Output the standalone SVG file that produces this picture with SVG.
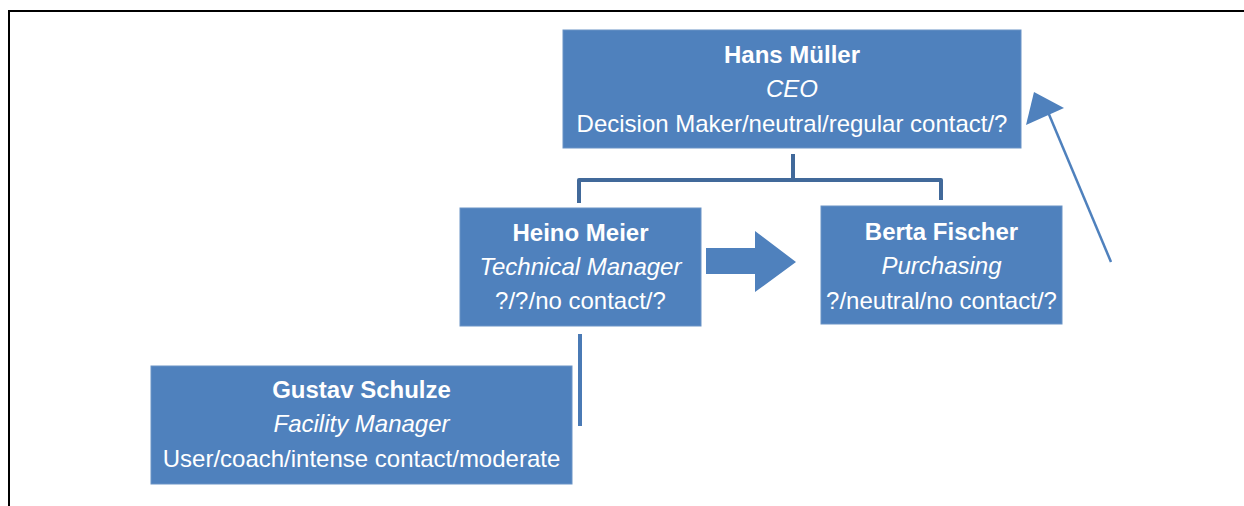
<svg xmlns="http://www.w3.org/2000/svg" width="1244" height="506" viewBox="0 0 1244 506">
  <style>
    .box { fill: #4F81BD; stroke: #6A93C6; stroke-width: 1; }
    text { font-family: "Liberation Sans", Arial, sans-serif; font-size: 24px; fill: #FFFFFF; text-anchor: middle; }
    .name { font-weight: bold; }
    .role { font-style: italic; }
    .tree { fill: none; stroke: #41699A; stroke-width: 4; stroke-linejoin: round; }
    .link { fill: none; stroke: #4A7AB5; stroke-width: 4; }
    .thin { fill: none; stroke: #4F81BD; stroke-width: 2.5; }
    .head { fill: #4F81BD; }
  </style>

  <!-- frame -->
  <path d="M9 506 V11 H1244" fill="none" stroke="#000" stroke-width="2"/>

  <!-- connectors -->
  <g id="connectors">
    <path class="tree" d="M793 154 V180 M579 203 V180 H941 V200"/>
    <path class="link" d="M580 334 V426"/>
    <polygon class="head" points="706,248 755,248 755,231 796,262 755,292 755,274 706,274"/>
    <line class="thin" x1="1111" y1="262" x2="1048" y2="112"/>
    <polygon class="head" points="1034,92 1064,108 1026,125"/>
  </g>

  <g id="hans">
    <rect class="box" x="563" y="30" width="458" height="118"/>
    <text class="name" x="792" y="63">Hans Müller</text>
    <text class="role" x="792" y="97">CEO</text>
    <text x="792" y="132">Decision Maker/neutral/regular contact/?</text>
  </g>

  <g id="heino">
    <rect class="box" x="460" y="208" width="241" height="118"/>
    <text class="name" x="580.5" y="241">Heino Meier</text>
    <text class="role" x="580.5" y="275">Technical Manager</text>
    <text x="580.5" y="309">?/?/no contact/?</text>
  </g>

  <g id="berta">
    <rect class="box" x="821" y="206" width="241" height="118"/>
    <text class="name" x="941.5" y="239.5">Berta Fischer</text>
    <text class="role" x="941.5" y="274">Purchasing</text>
    <text x="941.5" y="308.5">?/neutral/no contact/?</text>
  </g>

  <g id="gustav">
    <rect class="box" x="151" y="366" width="421" height="118"/>
    <text class="name" x="361.5" y="398">Gustav Schulze</text>
    <text class="role" x="361.5" y="432">Facility Manager</text>
    <text x="361.5" y="467">User/coach/intense contact/moderate</text>
  </g>
</svg>
